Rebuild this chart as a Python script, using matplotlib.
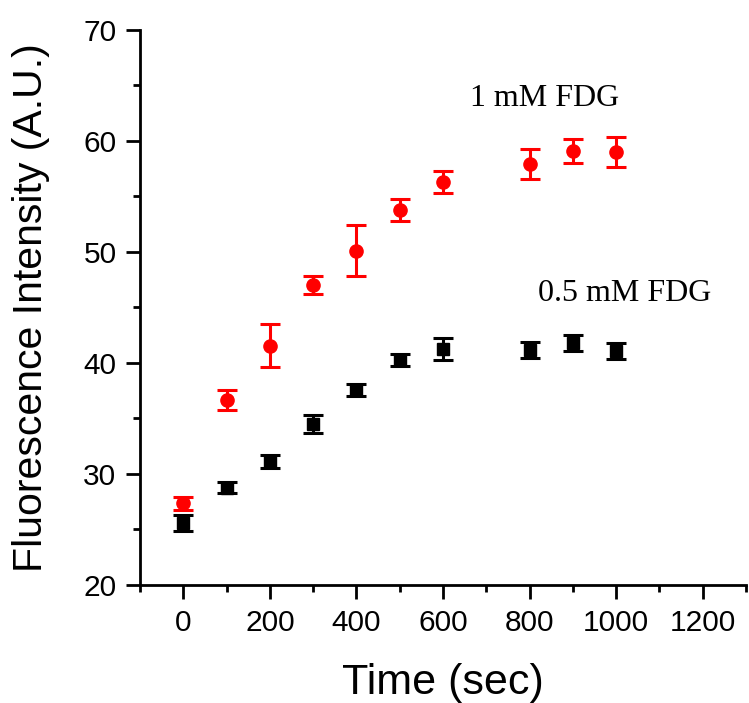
import matplotlib.pyplot as plt
from matplotlib.ticker import MultipleLocator

# время, сек
time_sec = [0, 100, 200, 300, 400, 500, 600, 800, 900, 1000]

# 1 mM FDG
fdg_1mm = [27.35, 36.65, 41.55, 47.0, 50.1, 53.75, 56.3, 57.9, 59.05, 59.0]
fdg_1mm_err = [0.6, 0.9, 1.9, 0.8, 2.3, 1.0, 1.0, 1.35, 1.1, 1.35]

# 0.5 mM FDG
fdg_05mm = [25.55, 28.75, 31.1, 34.5, 37.55, 40.25, 41.25, 41.15, 41.75, 41.05]
fdg_05mm_err = [0.7, 0.5, 0.55, 0.78, 0.5, 0.55, 1.0, 0.75, 0.73, 0.7]

plt.rcParams["font.family"] = ["Liberation Sans", "DejaVu Sans"]

fig = plt.figure(figsize=(7.49, 7.03), dpi=100)
ax = fig.add_axes([0.187, 0.168, 0.809, 0.79])

ax.errorbar(time_sec, fdg_05mm, yerr=fdg_05mm_err, fmt="s", color="black",
            ms=8.5, capsize=7.5, elinewidth=2.2, capthick=2.2)
ax.errorbar(time_sec, fdg_1mm, yerr=fdg_1mm_err, fmt="o", color="red",
            ms=9.5, capsize=7.5, elinewidth=2.2, capthick=2.2)

ax.text(663, 63.8, "1 mM FDG", family="Liberation Serif", fontsize=23, va="center")
ax.text(819, 46.25, "0.5 mM FDG", family="Liberation Serif", fontsize=23, va="center")

ax.set_xlim(-100, 1300)
ax.set_ylim(20, 70)
ax.set_xticks(range(0, 1201, 200))
ax.xaxis.set_minor_locator(MultipleLocator(100))
ax.yaxis.set_major_locator(MultipleLocator(10))
ax.yaxis.set_minor_locator(MultipleLocator(5))

ax.spines["top"].set_visible(False)
ax.spines["right"].set_visible(False)
for s in ["left", "bottom"]:
    ax.spines[s].set_linewidth(2)

ax.tick_params(which="major", direction="out", length=10, width=2, labelsize=21.5, pad=7)
ax.tick_params(which="minor", direction="out", length=5, width=2)

ax.set_xlabel("Time (sec)", fontsize=31, labelpad=19)
ax.set_ylabel("Fluorescence Intensity (A.U.)", fontsize=29.5, labelpad=24)

fig.savefig("out.png", dpi=100)
